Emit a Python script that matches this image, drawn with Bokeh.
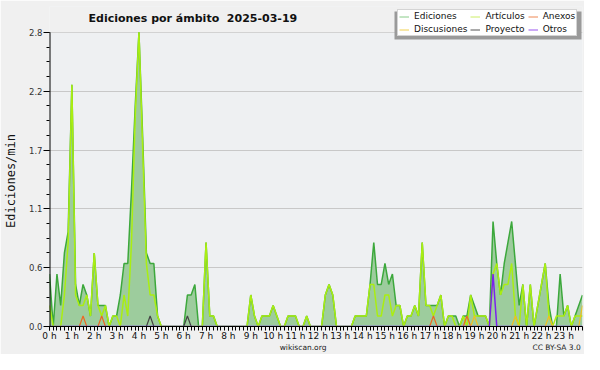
import numpy as np
from bokeh.plotting import figure
from bokeh.models import (ColumnDataSource, FixedTicker, Legend, LegendItem, Label, Range1d,
                          LinearAxis, BoxAnnotation)
from bokeh.embed import file_html
from bokeh.resources import INLINE

title_text = "Ediciones por ámbito  2025-03-19"
y_label = "Ediciones/min"
footer_left = "wikiscan.org"
footer_right = "CC BY-SA 3.0"
y_ticks = [0.0, 0.56, 1.12, 1.68, 2.24, 2.8]
y_tick_labels = ["0.0", "0.6", "1.1", "1.7", "2.2", "2.8"]
hours = list(range(24))
hour_labels = [f"{h} h" for h in hours]
series_names = ["Ediciones", "Artículos", "Anexos", "Discusiones", "Proyecto", "Otros"]

# edits per 10-minute slot, 144 slots (one row = 4 hours)
ediciones = [
    5, 0, 5, 2, 7, 9, 23, 4, 2, 4, 3, 1, 7, 2, 2, 2, 0, 1, 1, 3, 6, 6, 13, 21,
    28, 18, 7, 6, 6, 1, 0, 0, 0, 0, 0, 0, 0, 3, 3, 4, 0, 0, 8, 1, 1, 0, 0, 0,
    0, 0, 0, 0, 0, 0, 3, 1, 0, 1, 1, 1, 2, 1, 0, 0, 1, 1, 1, 0, 0, 1, 0, 0,
    0, 0, 3, 4, 3, 0, 0, 0, 0, 0, 1, 1, 1, 1, 4, 8, 4, 4, 6, 4, 5, 2, 2, 0,
    1, 1, 2, 1, 8, 2, 2, 2, 2, 3, 0, 1, 1, 1, 0, 1, 1, 3, 2, 1, 1, 1, 0, 10,
    6, 3, 6, 8, 10, 6, 2, 4, 0, 4, 0, 2, 4, 6, 2, 0, 0, 5, 1, 2, 0, 1, 2, 3,
]
articulos = [
    2, 0, 0, 0, 3, 8, 23, 3, 2, 2, 3, 1, 7, 2, 1, 2, 0, 1, 1, 0, 3, 1, 8, 20,
    28, 17, 6, 3, 3, 1, 0, 0, 0, 0, 0, 0, 0, 0, 0, 0, 0, 0, 8, 1, 1, 0, 0, 0,
    0, 0, 0, 0, 0, 0, 3, 1, 0, 1, 1, 1, 2, 1, 0, 0, 1, 1, 1, 0, 0, 1, 0, 0,
    0, 0, 3, 4, 3, 0, 0, 0, 0, 0, 1, 1, 1, 1, 4, 4, 1, 1, 3, 3, 1, 2, 2, 0,
    1, 1, 2, 1, 8, 2, 2, 1, 2, 3, 0, 1, 1, 0, 0, 1, 0, 3, 1, 1, 1, 1, 0, 5,
    6, 3, 4, 4, 6, 1, 0, 4, 0, 4, 0, 2, 4, 6, 1, 0, 1, 1, 1, 2, 0, 1, 1, 1,
]
anexos = [
    0, 0, 0, 0, 0, 0, 0, 0, 0, 1, 0, 0, 0, 0, 1, 0, 0, 0, 0, 0, 0, 0, 0, 0,
    0, 0, 0, 0, 0, 0, 0, 0, 0, 0, 0, 0, 0, 0, 0, 0, 0, 0, 0, 0, 0, 0, 0, 0,
    0, 0, 0, 0, 0, 0, 0, 0, 0, 0, 0, 0, 0, 0, 0, 0, 0, 0, 0, 0, 0, 0, 0, 0,
    0, 0, 0, 0, 0, 0, 0, 0, 0, 0, 0, 0, 0, 0, 0, 0, 0, 0, 0, 0, 0, 0, 0, 0,
    0, 0, 0, 0, 0, 0, 0, 1, 0, 0, 0, 0, 0, 0, 0, 0, 1, 0, 0, 0, 0, 0, 0, 0,
    0, 0, 0, 0, 0, 0, 0, 0, 0, 0, 0, 0, 0, 0, 0, 0, 0, 0, 0, 0, 0, 0, 0, 0,
]
discusiones = [
    0, 0, 0, 0, 0, 0, 0, 0, 0, 0, 0, 0, 0, 0, 0, 0, 0, 0, 0, 0, 0, 0, 0, 0,
    0, 0, 0, 0, 0, 0, 0, 0, 0, 0, 0, 0, 0, 0, 0, 0, 0, 0, 0, 0, 0, 0, 0, 0,
    0, 0, 0, 0, 0, 0, 0, 0, 0, 0, 0, 0, 0, 0, 0, 0, 0, 0, 0, 0, 0, 0, 0, 0,
    0, 0, 0, 0, 0, 0, 0, 0, 0, 0, 0, 0, 0, 0, 0, 0, 0, 0, 0, 0, 0, 0, 0, 0,
    0, 0, 0, 0, 0, 0, 0, 0, 0, 0, 0, 0, 0, 0, 0, 0, 0, 0, 1, 0, 0, 0, 0, 0,
    0, 0, 0, 0, 0, 1, 0, 0, 0, 0, 0, 0, 0, 0, 1, 0, 0, 0, 0, 0, 0, 0, 0, 2,
]
proyecto = [
    0, 0, 0, 0, 0, 0, 0, 0, 0, 0, 0, 0, 0, 0, 0, 0, 0, 0, 0, 0, 0, 0, 0, 0,
    0, 0, 0, 1, 0, 0, 0, 0, 0, 0, 0, 0, 0, 1, 0, 0, 0, 0, 0, 0, 0, 0, 0, 0,
    0, 0, 0, 0, 0, 0, 0, 0, 0, 0, 0, 0, 0, 0, 0, 0, 0, 0, 0, 0, 0, 0, 0, 0,
    0, 0, 0, 0, 0, 0, 0, 0, 0, 0, 0, 0, 0, 0, 0, 0, 0, 0, 0, 0, 0, 0, 0, 0,
    0, 0, 0, 0, 0, 0, 0, 0, 0, 0, 0, 0, 0, 0, 0, 0, 0, 0, 0, 0, 0, 0, 0, 0,
    0, 0, 0, 0, 0, 0, 0, 0, 0, 0, 0, 0, 0, 0, 0, 0, 0, 0, 0, 0, 0, 0, 0, 0,
]
otros = [
    0, 0, 0, 0, 0, 0, 0, 0, 0, 0, 0, 0, 0, 0, 0, 0, 0, 0, 0, 0, 0, 0, 0, 0,
    0, 0, 0, 0, 0, 0, 0, 0, 0, 0, 0, 0, 0, 0, 0, 0, 0, 0, 0, 0, 0, 0, 0, 0,
    0, 0, 0, 0, 0, 0, 0, 0, 0, 0, 0, 0, 0, 0, 0, 0, 0, 0, 0, 0, 0, 0, 0, 0,
    0, 0, 0, 0, 0, 0, 0, 0, 0, 0, 0, 0, 0, 0, 0, 0, 0, 0, 0, 0, 0, 0, 0, 0,
    0, 0, 0, 0, 0, 0, 0, 0, 0, 0, 0, 0, 0, 0, 0, 0, 0, 0, 0, 0, 0, 0, 0, 5,
    0, 0, 0, 0, 0, 0, 0, 0, 0, 0, 0, 0, 0, 0, 0, 0, 0, 0, 0, 0, 0, 0, 0, 0,
]

SLOTS_PER_HOUR = 6
MINUTES_PER_SLOT = 10
n = len(ediciones)
t = np.arange(n) / SLOTS_PER_HOUR  # hours
x_start, x_end = 0.0, (n - 1) / SLOTS_PER_HOUR

def rate(a):
    return np.array(a, dtype=float) / MINUTES_PER_SLOT

src = ColumnDataSource(dict(
    t=t, ed=rate(ediciones), ar=rate(articulos), an=rate(anexos),
    di=rate(discusiones), pr=rate(proyecto), ot=rate(otros),
))

# ---- layout (pixels) ----
W, H = 584, 354
LEFT, RIGHT, TOP, BOTTOM = 46, 2, 6, 26
FRAME_B = H - BOTTOM          # pixel row of value 0
TOP_VALUE_PX = 32             # pixel row where the top tick value sits
FRAME_W = W - LEFT - RIGHT
y_end = y_ticks[-1] * (FRAME_B - TOP) / (FRAME_B - TOP_VALUE_PX)
px_per_hour = FRAME_W / (x_end - x_start)

FONT = "DejaVu Sans"
OUTER = "#f0f0f0"
p = figure(width=W, height=H, output_backend="svg", toolbar_location=None,
           x_range=Range1d(x_start, x_end), y_range=Range1d(0, y_end),
           min_border_left=LEFT, min_border_right=RIGHT, min_border_top=TOP,
           min_border_bottom=BOTTOM,
           background_fill_color="#eef0f2", border_fill_color=OUTER)
p.outline_line_color = None

# area above the top tick looks like the outer background
p.add_layout(BoxAnnotation(bottom=y_ticks[-1], fill_color=OUTER, fill_alpha=1.0,
                           line_color=None, level="underlay"))

# series
p.varea(x="t", y1=0, y2="ed", source=src, fill_color="#9dcc9d", fill_alpha=1.0)
p.line(x="t", y="ed", source=src, line_color="#3ca83c", line_width=1.5)
p.line(x="t", y="ar", source=src, line_color="#aaee11", line_width=1.5)
p.line(x="t", y="an", source=src, line_color="#ee6622", line_width=1.2)
p.line(x="t", y="di", source=src, line_color="#f0c020", line_width=1.2)
p.line(x="t", y="pr", source=src, line_color="#444444", line_width=1.2)
p.line(x="t", y="ot", source=src, line_color="#7a22ee", line_width=1.5)

# y axis line only up to the top tick
p.segment(x0=[x_start], y0=[y_ticks[0]], x1=[x_start], y1=[y_ticks[-1]],
          line_color="black", line_width=2)

# axes
xa = p.xaxis[0]
xa.ticker = FixedTicker(ticks=hours, minor_ticks=list(t))
xa.major_label_overrides = dict(zip(hours, hour_labels))
xa.major_tick_out = 4
xa.major_tick_in = 0
xa.minor_tick_out = 4
xa.minor_tick_in = 0
xa.major_label_standoff = 0
xa.major_label_text_font = FONT
xa.major_label_text_font_size = "9px"
xa.major_label_text_color = "#111111"
xa.axis_line_color = "black"

ya = p.yaxis[0]
ya.ticker = FixedTicker(ticks=y_ticks, minor_ticks=[k * y_ticks[1] / 4 for k in range(21)])
ya.major_label_overrides = dict(zip(y_ticks, y_tick_labels))
ya.major_tick_out = 6
ya.major_tick_in = 0
ya.minor_tick_out = 3
ya.minor_tick_in = 0
ya.major_label_standoff = 1
ya.major_label_text_font = FONT
ya.major_label_text_font_size = "8.5px"
ya.major_label_text_color = "#333333"
ya.axis_line_color = None
ya.axis_label = y_label + "\u00a0" * 4
ya.axis_label_text_font = "DejaVu Sans Mono"
ya.axis_label_text_font_size = "12px"
ya.axis_label_text_font_style = "normal"
ya.axis_label_text_color = "#111111"
ya.axis_label_standoff = 8

p.xgrid.visible = False
p.ygrid.grid_line_color = "#c8c8c8"

# footer row: a tick-less axis below the time axis
foot_left_x = (301 - LEFT) / px_per_hour
foot_right_x = (582 - 26 - LEFT) / px_per_hour
foot = LinearAxis(ticker=FixedTicker(ticks=[foot_left_x, foot_right_x]),
                  major_label_overrides={foot_left_x: footer_left, foot_right_x: footer_right},
                  axis_line_color=None, major_tick_line_color=None, minor_tick_line_color=None,
                  major_tick_out=0, major_tick_in=0, minor_tick_out=0, minor_tick_in=0,
                  major_label_standoff=-1, major_label_text_font=FONT,
                  major_label_text_font_size="7.5px", major_label_text_color="#222222")
p.add_layout(foot, "below")

# title inside the (extended) frame
p.add_layout(Label(x=85 - LEFT, y=FRAME_B - 20, x_units="screen", y_units="screen",
                   text=title_text.replace("  ", "\u00a0\u00a0"),
                   text_font=FONT, text_font_style="bold", text_font_size="11px",
                   text_color="#111111", text_baseline="alphabetic"))

# legend shadow + legend (dummy renderers carry the legend colours)
p.add_layout(BoxAnnotation(left=391 - LEFT, right=578 - LEFT, top=FRAME_B - 13,
                           bottom=FRAME_B - 41, left_units="screen", right_units="screen",
                           top_units="screen", bottom_units="screen",
                           fill_color="#9a9a9a", fill_alpha=1.0, line_color=None))
legend_colors = ["#88cc88", "#ccee66", "#ee8855", "#f0d050", "#555555", "#9955ee"]
items = []
for name, col in zip(series_names, legend_colors):
    r = p.line(x=[np.nan], y=[np.nan], line_color=col, line_width=1)
    items.append(LegendItem(label=name, renderers=[r]))
leg = Legend(items=items, ncols=3, location=(394 - LEFT, FRAME_B - 38), orientation="horizontal",
             label_text_font=FONT, label_text_font_size="9px", label_text_color="#111111",
             label_height=9, glyph_height=9, glyph_width=10, label_standoff=5,
             spacing=3, padding=1, margin=0, border_line_color="#aaaaaa",
             background_fill_color="white", background_fill_alpha=1.0)
p.add_layout(leg, "center")

open("out.html", "w").write(file_html(p, INLINE))
